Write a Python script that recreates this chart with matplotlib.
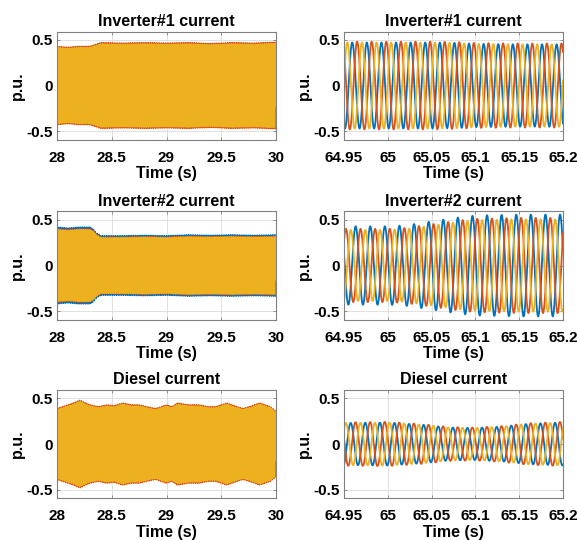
import numpy as np
import matplotlib
matplotlib.use("Agg")
import matplotlib.pyplot as plt

plt.rcParams['font.family'] = ['Liberation Sans', 'DejaVu Sans']
plt.rcParams['font.weight'] = 'bold'
plt.rcParams['axes.titleweight'] = 'bold'
plt.rcParams['axes.labelweight'] = 'bold'

# ---------------------------------------------------------------------------
# Three-phase current waveforms (phase a, b, c)
# ---------------------------------------------------------------------------
F_GRID = 60.0                                   # system frequency, Hz
PHASE_COLORS = ['#0072BD', '#D95319', '#EDB120']
PHASE_SHIFT_DEG = [0.0, -120.0, -240.0]

titles = ["Inverter#1 current", "Inverter#2 current", "Diesel current"]

# Time windows
w1_xlim = (28.0, 30.0)
w1_xticks = [28, 28.5, 29, 29.5, 30]
w1_xticklabels = ["28", "28.5", "29", "29.5", "30"]
w2_xlim = (64.95, 65.2)
w2_xticks = [64.95, 65.0, 65.05, 65.1, 65.15, 65.2]
w2_xticklabels = ["64.95", "65", "65.05", "65.1", "65.15", "65.2"]

ylim = (-0.59, 0.59)
yticks = [-0.5, 0, 0.5]
yticklabels = ["-0.5", "0", "0.5"]

# Peak-current envelopes (p.u.) at knot times, window 28-30 s
inv1_w1_t = [28.0, 28.1, 28.2, 28.3, 28.35, 28.4, 28.6, 28.8, 29.0, 29.2, 29.4, 29.6, 29.8, 30.0]
inv1_w1_amp = [0.42, 0.41, 0.42, 0.42, 0.44, 0.46, 0.455, 0.46, 0.455, 0.46, 0.45, 0.46, 0.455, 0.465]
inv1_w1_scale = [1.0, 1.02, 0.99]

inv2_w1_t = [28.0, 28.1, 28.2, 28.3, 28.33, 28.36, 28.4, 28.6, 28.8, 29.0, 29.2, 29.4, 29.6, 29.8, 30.0]
inv2_w1_amp = [0.40, 0.39, 0.40, 0.40, 0.38, 0.34, 0.31, 0.31, 0.315, 0.31, 0.32, 0.315, 0.32, 0.315, 0.32]
inv2_w1_scale = [1.05, 1.0, 0.98]

diesel_w1_t = [28.0, 28.05, 28.1, 28.15, 28.21, 28.26, 28.3, 28.38, 28.45, 28.52, 28.6,
               28.68, 28.75, 28.82, 28.9, 28.95, 29.0, 29.05, 29.1, 29.2, 29.3, 29.38,
               29.45, 29.5, 29.55, 29.62, 29.7, 29.78, 29.85, 29.9, 29.95, 30.0]
diesel_w1_amp = [0.38, 0.40, 0.42, 0.44, 0.47, 0.44, 0.42, 0.40, 0.42, 0.41, 0.44,
                 0.42, 0.42, 0.40, 0.38, 0.40, 0.42, 0.40, 0.44, 0.42, 0.42, 0.40,
                 0.40, 0.42, 0.44, 0.41, 0.38, 0.41, 0.44, 0.42, 0.40, 0.35]
diesel_w1_scale = [0.98, 1.02, 0.99]

# Peak-current envelopes (p.u.) at knot times, window 64.95-65.2 s
inv1_w2_t = [64.95, 65.0, 65.05, 65.08, 65.1, 65.15, 65.2]
inv1_w2_amp = [0.47, 0.47, 0.47, 0.465, 0.455, 0.45, 0.45]
inv1_w2_scale = [1.0, 1.02, 1.0]
inv1_w2_peak = 64.9594          # time of the first phase-a peak

inv2_w2_t = [64.95, 65.0, 65.02, 65.05, 65.08, 65.1, 65.15, 65.2]
inv2_w2_amp = [0.40, 0.40, 0.41, 0.45, 0.49, 0.51, 0.52, 0.52]
inv2_w2_scale = [1.07, 1.0, 0.97]
inv2_w2_peak = 64.9633

diesel_w2_t = [64.95, 65.0, 65.04, 65.07, 65.1, 65.13, 65.16, 65.2]
diesel_w2_amp = [0.23, 0.235, 0.21, 0.18, 0.175, 0.19, 0.22, 0.235]
diesel_w2_scale = [1.0, 1.03, 1.0]
diesel_w2_peak = 64.9576


def phase_currents(t, knot_t, knot_amp, scale, t_peak):
    env = np.interp(t, knot_t, knot_amp)
    out = []
    for s, sh in zip(scale, PHASE_SHIFT_DEG):
        out.append(s * env * np.cos(2 * np.pi * F_GRID * (t - t_peak) + np.deg2rad(sh)))
    return out


panels = [
    # row, col, xlim, xticks, labels, knots, amps, scale, peak, npts, lw
    (0, 0, w1_xlim, w1_xticks, w1_xticklabels, inv1_w1_t, inv1_w1_amp, inv1_w1_scale, 28.0, 24000, 1.0),
    (0, 1, w2_xlim, w2_xticks, w2_xticklabels, inv1_w2_t, inv1_w2_amp, inv1_w2_scale, inv1_w2_peak, 3000, 1.3),
    (1, 0, w1_xlim, w1_xticks, w1_xticklabels, inv2_w1_t, inv2_w1_amp, inv2_w1_scale, 28.0, 24000, 1.0),
    (1, 1, w2_xlim, w2_xticks, w2_xticklabels, inv2_w2_t, inv2_w2_amp, inv2_w2_scale, inv2_w2_peak, 3000, 1.3),
    (2, 0, w1_xlim, w1_xticks, w1_xticklabels, diesel_w1_t, diesel_w1_amp, diesel_w1_scale, 28.0, 24000, 1.0),
    (2, 1, w2_xlim, w2_xticks, w2_xticklabels, diesel_w2_t, diesel_w2_amp, diesel_w2_scale, diesel_w2_peak, 3000, 1.3),
]

W, H = 577, 540
fig = plt.figure(figsize=(W / 100, H / 100), dpi=100)

col_left = [57, 344]
ax_w = 219
row_top = [31.5, 211.5, 390.0]
ax_h = 108

for row, col, xlim, xt, xtl, kt, ka, ks, tp, npts, lw in panels:
    x0 = col_left[col]
    y0 = row_top[row]
    ax = fig.add_axes([x0 / W, 1 - (y0 + ax_h) / H, ax_w / W, ax_h / H])
    t = np.linspace(xlim[0], xlim[1], npts)
    for y, c in zip(phase_currents(t, kt, ka, ks, tp), PHASE_COLORS):
        ax.plot(t, y, color=c, lw=lw)
    ax.set_xlim(xlim)
    ax.set_ylim(ylim)
    ax.set_xticks(xt)
    ax.set_xticklabels(xtl)
    ax.set_yticks(yticks)
    ax.set_yticklabels(yticklabels)
    ax.grid(True, color='#dcdcdc', lw=0.6)
    ax.set_axisbelow(True)
    for sp in ax.spines.values():
        sp.set_color('#808080')
        sp.set_linewidth(0.8)
    ax.tick_params(direction='in', length=2.5, width=0.6, color='#808080',
                   top=True, right=True, labelsize=11, pad=8)
    ax.tick_params(axis='y', pad=3)
    ax.set_title(titles[row], fontsize=11.5, fontweight='bold', pad=4)
    ax.set_xlabel("Time (s)", fontsize=11.5, labelpad=1)
    ax.set_ylabel("p.u.", fontsize=11.5, labelpad=1)

fig.savefig("out.png", dpi=100)
